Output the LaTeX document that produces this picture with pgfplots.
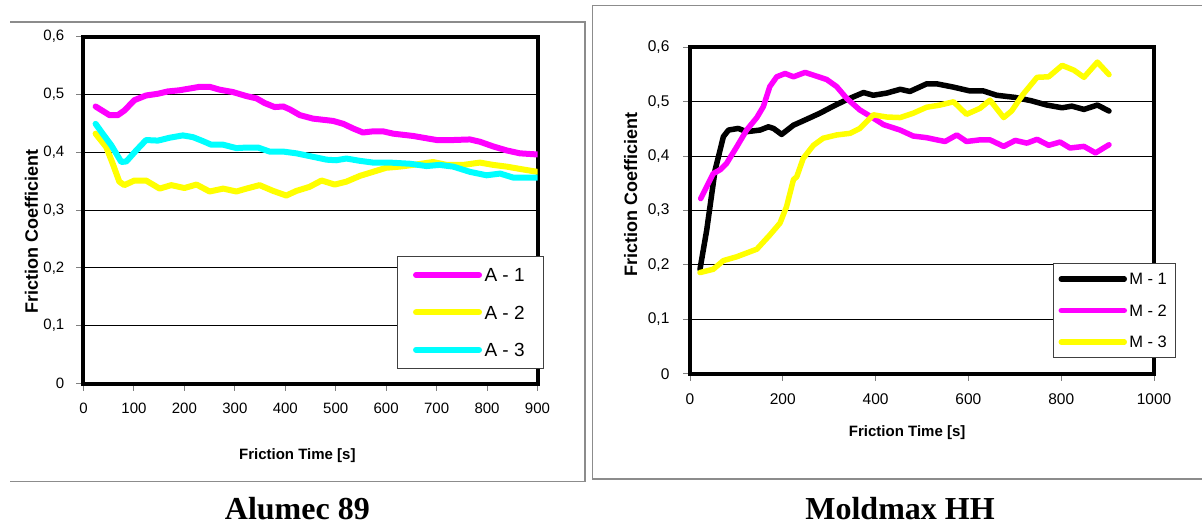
\documentclass[border=0pt]{standalone}
\usepackage{fontspec}
\setmainfont{Liberation Sans}
\newfontfamily\titlefont{Liberation Serif}
\usepackage{pgfplots}
\pgfplotsset{compat=1.18}
\definecolor{mag}{RGB}{255,0,255}
\definecolor{yel}{RGB}{255,255,0}
\definecolor{cya}{RGB}{0,255,255}
\definecolor{framegray}{RGB}{140,140,140}
\pgfplotsset{
  base/.style={
    scale only axis, anchor=south west,
    axis line style={line width=4pt, black},
    ymin=0, ymax=0.6,
    ytick={0,0.1,0.2,0.3,0.4,0.5,0.6},
    yticklabels={0,{0,1},{0,2},{0,3},{0,4},{0,5},{0,6}},
    ymajorgrids, grid style={black, line width=0.9pt},
    tick align=outside, major tick length=7pt, tick pos=left,
    tick style={black!50, line width=1pt},
    xticklabel style={anchor=north, inner sep=0pt, yshift=-12.5pt},
    yticklabel style={anchor=east, inner sep=0pt, xshift=-12pt},
    legend image code/.code={\draw[##1] (0pt,0pt) -- (63pt,0pt);},
    legend cell align=left,
    every axis plot/.append style={line join=round, line cap=round},
    xlabel style={anchor=center, font=\bfseries\fontsize{15}{15}\selectfont},
    ylabel style={anchor=center, font=\bfseries\fontsize{18}{18}\selectfont},
    title style={anchor=center, font=\titlefont\bfseries\fontsize{32}{32}\selectfont},
  }
}
\begin{document}
\begin{tikzpicture}[x=1pt,y=1pt]
\useasboundingbox (0,0) rectangle (1202,528);
\fill[white] (0,0) rectangle (1202,528);
% outer frames
\draw[framegray, line width=1.3pt] (10,506) -- (585,506) -- (585,46.5) -- (10,46.5);
\draw[framegray, line width=1.3pt] (1202,522.3) -- (592.7,522.3) -- (592.7,49) -- (1202,49);

\begin{axis}[base,
  at={(83.5pt,144.5pt)}, width=454pt, height=347pt,
  xmin=0, xmax=900,
  xtick={0,100,200,300,400,500,600,700,800,900},
  xticklabels={0,100,200,300,400,500,600,700,800,900},
  ticklabel style={font=\fontsize{15}{15}\selectfont},
  xlabel={Friction Time [s]},
  xlabel style={at={(axis description cs:0.471,-0.209)}},
  ylabel={Friction Coefficient},
  ylabel style={at={(axis description cs:-0.1147,0.438)}},
  title={Alumec 89},
  title style={at={(axis description cs:0.471,-0.379)}},
  legend style={at={(axis description cs:0.6895,0.3683)}, anchor=north west,
    draw=black!75, line width=1pt, fill=white,
    font=\fontsize{19}{19}\selectfont,
    inner xsep=16pt, inner ysep=12pt, row sep=23.8pt,
    nodes={inner xsep=2.5pt, inner ysep=0pt, text height=13.6pt, text depth=0pt}},
]
\addplot[mag, line width=6pt] coordinates {
(24,0.479) (51.6,0.464) (68,0.464) (81,0.472) (101,0.490) (124,0.498) (147.5,0.501)
(167,0.505) (190,0.507) (217,0.511) (230,0.513) (250,0.513) (270,0.508) (296,0.504)
(323,0.497) (343,0.493) (359,0.485) (379,0.478) (396,0.479) (409,0.474) (429,0.464)
(455,0.458) (495,0.454) (515,0.449) (534.5,0.441) (554,0.434) (574,0.436) (594,0.436)
(614,0.432) (653.6,0.428) (680,0.424) (700,0.421) (733,0.421) (766,0.422) (786,0.418)
(812,0.410) (839,0.403) (865,0.398) (900,0.396)};
\addlegendentry{A - 1}
\addplot[yel, line width=6pt] coordinates {
(24,0.432) (45,0.409) (58,0.380) (71,0.349) (81,0.343) (101,0.351) (124,0.351)
(151,0.337) (174,0.343) (200,0.338) (224,0.344) (250,0.332) (277,0.337) (303,0.332)
(323,0.337) (349,0.343) (376,0.333) (402,0.325) (422,0.333) (448,0.340) (472,0.351)
(498,0.344) (521,0.349) (548,0.359) (574,0.366) (600,0.373) (627,0.375) (653.6,0.378)
(693,0.383) (720,0.378) (753,0.378) (786,0.382) (812,0.378) (839,0.375) (872,0.370)
(900,0.366)};
\addlegendentry{A - 2}
\addplot[cya, line width=6pt] coordinates {
(24,0.449) (38,0.432) (55,0.412) (75,0.383) (85,0.384) (104.5,0.403) (124,0.421)
(147.5,0.420) (171,0.425) (197,0.429) (217,0.426) (237,0.419) (253,0.413) (276.5,0.413)
(303,0.407) (323,0.408) (346,0.408) (369,0.401) (396,0.401) (422,0.398) (455,0.392)
(482,0.387) (501,0.386) (521,0.389) (548,0.385) (574,0.382) (607,0.382) (647,0.380)
(680,0.376) (706,0.378) (733,0.375) (766,0.366) (799,0.360) (826,0.363) (852,0.356)
(900,0.356)};
\addlegendentry{A - 3}
\end{axis}

\begin{axis}[base,
  at={(690pt,154.3pt)}, width=464pt, height=326.3pt,
  xmin=0, xmax=1000,
  xtick={0,200,400,600,800,1000},
  xticklabels={0,200,400,600,800,1000},
  ticklabel style={font=\fontsize{15.5}{15.5}\selectfont},
  yticklabel style={xshift=-1.4pt},
  xticklabel style={yshift=-0.5pt},
  xlabel={Friction Time [s]},
  xlabel style={at={(axis description cs:0.468,-0.182)}},
  ylabel={Friction Coefficient},
  ylabel style={at={(axis description cs:-0.128,0.548)}},
  title={Moldmax HH},
  title style={at={(axis description cs:0.4526,-0.433)}},
  legend style={at={(axis description cs:0.783,0.340)}, anchor=north west,
    draw=black!75, line width=1pt, fill=white,
    font=\fontsize{16.5}{16.5}\selectfont,
    inner xsep=4.7pt, inner ysep=10pt, row sep=20pt,
    nodes={inner xsep=2.3pt, inner ysep=0pt, text height=11.5pt, text depth=0pt}},
]
\addplot[black, line width=5.5pt] coordinates {
(21.5,0.192) (36,0.264) (54,0.374) (72,0.436) (83,0.448) (104,0.451) (122,0.445)
(151,0.448) (169,0.454) (180,0.451) (197.5,0.440) (223,0.457) (244,0.465) (280,0.479)
(309,0.492) (338,0.504) (374,0.517) (395,0.512) (424,0.516) (453,0.523) (474,0.519)
(510,0.533) (532,0.533) (567.5,0.527) (603,0.520) (632,0.520) (661,0.512) (701,0.508)
(735,0.502) (769,0.494) (802,0.489) (823,0.492) (849,0.486) (878,0.494) (903,0.483)};
\addlegendentry{M - 1\hspace*{2pt}}
\addplot[mag, line width=5.5pt] coordinates {
(23,0.322) (36,0.344) (50,0.368) (65,0.375) (79,0.387) (100.6,0.417) (122,0.448)
(144,0.471) (158,0.491) (172,0.528) (187,0.546) (205,0.552) (223,0.546) (248,0.554)
(266,0.549) (294.5,0.541) (316,0.528) (338,0.506) (366,0.485) (395,0.470) (417,0.458)
(453,0.448) (481,0.437) (510,0.434) (532,0.430) (549.6,0.427) (575,0.439) (596,0.427)
(625,0.430) (646.5,0.430) (676,0.418) (701,0.429) (726,0.424) (748,0.431) (773,0.420)
(797.6,0.426) (819,0.415) (849,0.418) (874,0.406) (903,0.421)};
\addlegendentry{M - 2\hspace*{2pt}}
\addplot[yel, line width=5.5pt] coordinates {
(21.5,0.186) (50,0.192) (72,0.208) (100.6,0.215) (144,0.229) (172,0.255) (194,0.277)
(208,0.307) (223,0.357) (230,0.362) (244,0.396) (266,0.420) (287,0.433) (316,0.439)
(345,0.442) (366,0.451) (395,0.476) (424,0.472) (453,0.471) (481,0.479) (510,0.490)
(539,0.494) (568,0.500) (596,0.477) (625,0.488) (646.5,0.503) (676,0.471) (693,0.483)
(718,0.514) (748,0.545) (773,0.546) (802,0.567) (827.6,0.558) (849,0.545) (878,0.573)
(903,0.550)};
\addlegendentry{M - 3\hspace*{2pt}}
\end{axis}
\end{tikzpicture}
\end{document}
